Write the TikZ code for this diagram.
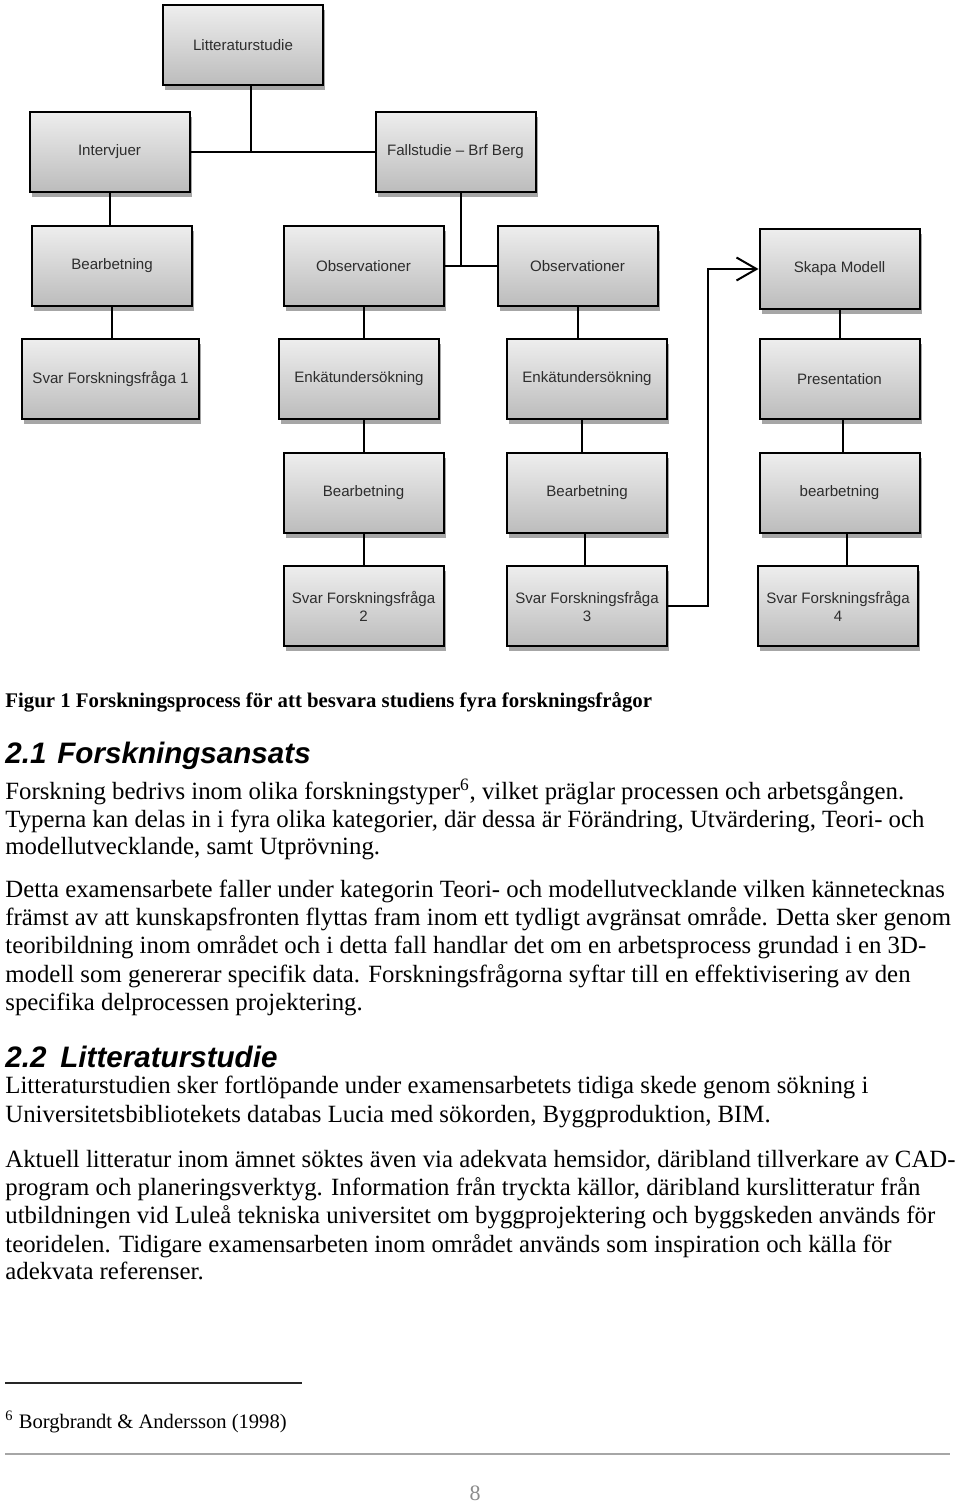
\documentclass[tikz,border=0pt]{standalone}
\usepackage{fontspec}
\setmainfont{Liberation Serif}
\newfontfamily\arialf{Liberation Sans}
\usetikzlibrary{shadows,arrows.meta}
\definecolor{boxtop}{RGB}{238,238,238}
\definecolor{boxbot}{RGB}{188,188,188}
\definecolor{boxtext}{RGB}{45,45,45}
\newcommand\mybody{\fontsize{12.4}{14}\selectfont}
\newcommand\mycapt{\fontsize{10.4}{12}\selectfont\bfseries}
\newcommand\myhead{\arialf\fontsize{14.8}{16}\selectfont\bfseries\itshape}
\newcommand\myfoot{\fontsize{10.3}{12}\selectfont}
\tikzset{
  pbox/.style={draw=black, line width=1pt, top color=boxtop, bottom color=boxbot,
    minimum width=80pt, minimum height=40pt, inner sep=1pt, align=center,
    text=boxtext, font=\arialf\fontsize{7.55}{9}\selectfont,
    drop shadow={shadow xshift=1pt, shadow yshift=-2.5pt, opacity=0.35, fill=black}},
  conn/.style={line width=1pt, draw=black},
  txt/.style={anchor=base west, inner sep=0pt, font=\mybody, text=black},
}
\begin{document}
\begin{tikzpicture}[x=0.5pt, y=-0.5pt]
\useasboundingbox (0,0) rectangle (960,1502);
\fill[white] (0,0) rectangle (960,1502);

% boxes
\node[pbox] (litt) at (243,45) {Litteraturstudie};
\node[pbox] (interv) at (109.5,152) {Intervjuer};
\node[pbox] (fall) at (455.5,152) {Fallstudie – Brf Berg};
\node[pbox] (bear1) at (112,266) {Bearbetning};
\node[pbox] (obs1) at (363.5,266) {Observationer};
\node[pbox] (obs2) at (577.5,266) {Observationer};
\node[pbox] (skapa) at (839.5,269) {Skapa Modell};
\node[pbox, minimum width=88.5pt] (svar1) at (110.5,379) {Svar Forskningsfråga 1};
\node[pbox] (enk1) at (359,379) {Enkätundersökning};
\node[pbox] (enk2) at (587,379) {Enkätundersökning};
\node[pbox] (pres) at (839.5,379) {Presentation};
\node[pbox] (bear2) at (363.5,493) {Bearbetning};
\node[pbox] (bear3) at (587,493) {Bearbetning};
\node[pbox] (bear4) at (839.5,493) {bearbetning};
\node[pbox] (svar2) at (363.5,606) {Svar Forskningsfråga\\2};
\node[pbox] (svar3) at (587,606) {Svar Forskningsfråga\\3};
\node[pbox] (svar4) at (838,606) {Svar Forskningsfråga\\4};

% connectors
\coordinate (j1) at (251,152);
\coordinate (j2) at (461,266);
\draw[conn] (litt.south -| j1) -- (j1);
\draw[conn] (interv.east) -- (fall.west);
\draw[conn] (fall.south -| j2) -- (j2);
\draw[conn] (obs1.east) -- (obs2.west);
\draw[conn] (interv.south) -- (interv.south |- bear1.north);
\draw[conn] (bear1.south) -- (bear1.south |- svar1.north);
\draw[conn] (obs1.south) -- (obs1.south |- enk1.north);
\draw[conn] (enk1.south -| obs1.south) -- (bear2.north);
\draw[conn] (bear2.south) -- (svar2.north);
\draw[conn] (obs2.south) -- (obs2.south |- enk2.north);
\draw[conn] ([xshift=-2.5pt]enk2.south) -- ([xshift=-2.5pt]enk2.south |- bear3.north);
\draw[conn] ([xshift=-1pt]bear3.south) -- ([xshift=-1pt]bear3.south |- svar3.north);
\draw[conn] (skapa.south) -- (skapa.south |- pres.north);
\draw[conn] ([xshift=1.75pt]pres.south) -- ([xshift=1.75pt]pres.south |- bear4.north);
\draw[conn] ([xshift=3.5pt]bear4.south) -- ([xshift=3.5pt]bear4.south |- svar4.north);
\draw[conn, -{Straight Barb[length=10pt, width=11.5pt, line width=1pt]}] (svar3.east) -- ++(40,0) |- (skapa.west);

% caption
\node[txt, font=\mycapt] (cap) at (5,707) {Figur 1 Forskningsprocess för att besvara studiens fyra forskningsfrågor};

% section 2.1
\node[txt, font=\myhead] (h1n) at (5,763) {2.1};
\node[txt, font=\myhead] (h1t) at (57,763) {Forskningsansats};
\node[txt] (a1) at (5,799) {Forskning bedrivs inom olika forskningstyper\textsuperscript{6}, vilket präglar processen och arbetsgången.};
\node[txt] (a2) at (5,827) {Typerna kan delas in i fyra olika kategorier, där dessa är Förändring, Utvärdering, Teori- och};
\node[txt] (a3) at (5,854) {modellutvecklande, samt Utprövning.};
\node[txt] (b1) at (5,897) {Detta examensarbete faller under kategorin Teori- och modellutvecklande vilken kännetecknas};
\node[txt] (b2) at (5,925) {främst av att kunskapsfronten flyttas fram inom ett tydligt avgränsat område. Detta sker genom};
\node[txt] (b3) at (5,953) {teoribildning inom området och i detta fall handlar det om en arbetsprocess grundad i en 3D-};
\node[txt] (b4) at (5,982) {modell som genererar specifik data. Forskningsfrågorna syftar till en effektivisering av den};
\node[txt] (b5) at (5,1010) {specifika delprocessen projektering.};

% section 2.2
\node[txt, font=\myhead] (h2n) at (5,1067) {2.2};
\node[txt, font=\myhead] (h2t) at (60,1067) {Litteraturstudie};
\node[txt] (c1) at (5,1093) {Litteraturstudien sker fortlöpande under examensarbetets tidiga skede genom sökning i};
\node[txt] (c2) at (5,1122) {Universitetsbibliotekets databas Lucia med sökorden, Byggproduktion, BIM.};
\node[txt] (d1) at (5,1167) {Aktuell litteratur inom ämnet söktes även via adekvata hemsidor, däribland tillverkare av CAD-};
\node[txt] (d2) at (5,1195) {program och planeringsverktyg. Information från tryckta källor, däribland kurslitteratur från};
\node[txt] (d3) at (5,1223) {utbildningen vid Luleå tekniska universitet om byggprojektering och byggskeden används för};
\node[txt] (d4) at (5,1252) {teoridelen. Tidigare examensarbeten inom området används som inspiration och källa för};
\node[txt] (d5) at (5,1279) {adekvata referenser.};

% footnote
\draw[line width=0.75pt, draw=black!85] (5,1383) -- (302,1383);
\node[txt, font=\myfoot] (fn) at (5,1428) {\textsuperscript{6} Borgbrandt \& Andersson (1998)};

% page footer
\draw[line width=1.2pt, draw=black!35] (5,1454) -- (950,1454);
\node[anchor=base, inner sep=0pt, font=\fontsize{11}{12}\selectfont, text=black!45] (pg) at (475,1500) {8};
\end{tikzpicture}
\end{document}
